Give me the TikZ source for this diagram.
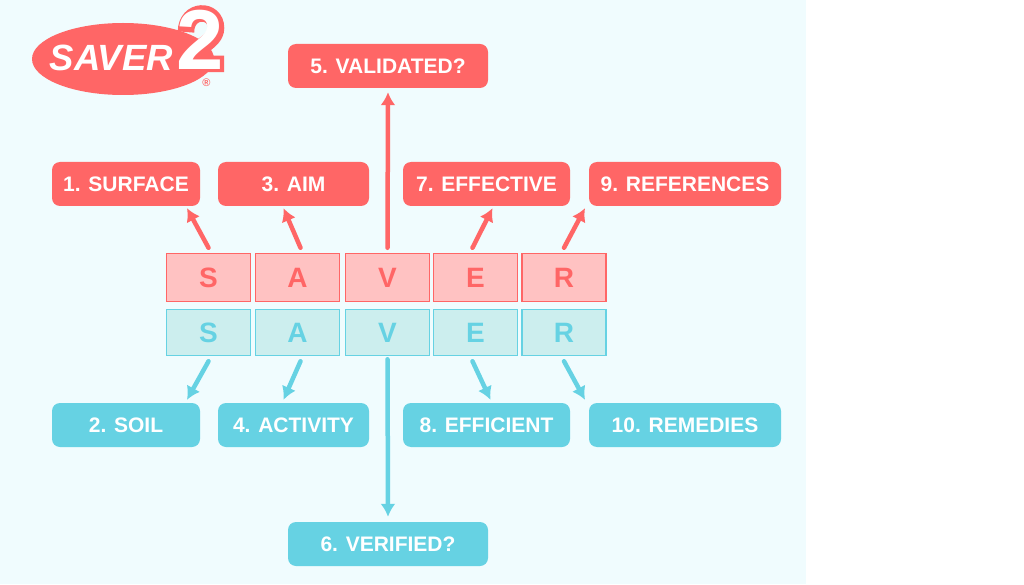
\documentclass[tikz,border=0pt]{standalone}
\usepackage{fontspec}
\setmainfont{Liberation Sans}
\definecolor{saverred}{HTML}{FF6666}
\definecolor{saverpink}{HTML}{FFC2C2}
\definecolor{saverblue}{HTML}{66D2E3}
\definecolor{saverpale}{HTML}{CCEEEE}
\definecolor{saverback}{HTML}{F0FCFE}
\tikzset{
  topic/.style={rounded corners=8pt,minimum height=44pt,inner sep=0pt,text=white,font=\fontsize{21}{24}\selectfont\bfseries},
  redtopic/.style={topic,fill=saverred},
  bluetopic/.style={topic,fill=saverblue},
  letter/.style={minimum width=84pt,inner sep=0pt,line width=1.5pt,font=\fontsize{28}{32}\selectfont\bfseries},
  redletter/.style={letter,minimum height=48pt,draw=saverred,fill=saverpink,text=saverred},
  blueletter/.style={letter,minimum height=46pt,draw=saverblue,fill=saverpale,text=saverblue},
  redarrow/.style={draw=saverred,line width=4.5pt,line cap=round,-{Latex[length=13pt,width=15pt]}},
  bluearrow/.style={draw=saverblue,line width=4.5pt,line cap=round,-{Latex[length=13pt,width=15pt]}}
}
\usetikzlibrary{arrows.meta}
\begin{document}
\begin{tikzpicture}[x=1pt,y=-1pt]
        \useasboundingbox (0,0) rectangle (1024,585);
        \fill[saverback] (0,0) rectangle (806,584);

        % Logo
        \fill[saverred] (123,59) ellipse [x radius=91,y radius=36];
        \node[text=white,inner sep=0pt,font=\fontsize{36.5}{40}\selectfont\bfseries\itshape] (logoname) at (111.5,58) {SAVER};
        \draw[saverred,line width=16.5pt] (186,32) .. controls (186,8) and (216,8) .. (216,28) .. controls (216,44) and (190,48) .. (186,64) -- (224,64);
        \node[text=white,inner sep=0pt,font=\fontsize{85}{86}\selectfont\bfseries] (logotwo) at (200.5,40) {2};
        \node[text=saverred,inner sep=0pt,font=\fontsize{11}{12}\selectfont\bfseries] (logomark) at (206.5,83) {®};

        % Red row of letters
        \node[redletter] (rs) at (208.5,277.5) {S};
        \node[redletter] (ra) at (297.5,277.5) {A};
        \node[redletter] (rv) at (387.5,277.5) {V};
        \node[redletter] (re) at (475.5,277.5) {E};
        \node[redletter] (rr) at (564,277.5) {R};

        % Blue row of letters
        \node[blueletter] (bs) at (208.5,332.5) {S};
        \node[blueletter] (ba) at (297.5,332.5) {A};
        \node[blueletter] (bv) at (387.5,332.5) {V};
        \node[blueletter] (be) at (475.5,332.5) {E};
        \node[blueletter] (br) at (564,332.5) {R};

        % Red topics
        \node[redtopic,minimum width=148pt] (surface) at (126,184) {1. SURFACE};
        \node[redtopic,minimum width=151pt] (aim) at (293.5,184) {3. AIM};
        \node[redtopic,minimum width=200pt] (validated) at (388,66) {5. VALIDATED?};
        \node[redtopic,minimum width=167pt] (effective) at (486.5,184) {7. EFFECTIVE};
        \node[redtopic,minimum width=192pt] (references) at (685,184) {9. REFERENCES};

        % Blue topics
        \node[bluetopic,minimum width=148pt] (soil) at (126,425) {2. SOIL};
        \node[bluetopic,minimum width=151pt] (activity) at (293.5,425) {4. ACTIVITY};
        \node[bluetopic,minimum width=200pt] (verified) at (388,544) {6. VERIFIED?};
        \node[bluetopic,minimum width=167pt] (efficient) at (486.5,425) {8. EFFICIENT};
        \node[bluetopic,minimum width=192pt] (remedies) at (685,425) {10. REMEDIES};

        % Connect the letters to the topics
        \draw[redarrow] ([yshift=5pt]rs.north) -- ([xshift=61pt,yshift=-2pt]surface.south);
        \draw[redarrow] ([xshift=3pt,yshift=5pt]ra.north) -- ([xshift=-10pt,yshift=-2pt]aim.south);
        \draw[redarrow] ([yshift=5pt]rv.north) -- ([yshift=-4pt]validated.south);
        \draw[redarrow] ([xshift=-3pt,yshift=5pt]re.north) -- ([xshift=6pt,yshift=-2pt]effective.south);
        \draw[redarrow] ([yshift=5pt]rr.north) -- ([xshift=-100pt,yshift=-2pt]references.south);
        \draw[bluearrow] ([yshift=-5pt]bs.south) -- ([xshift=61pt,yshift=3pt]soil.north);
        \draw[bluearrow] ([xshift=3pt,yshift=-5pt]ba.south) -- ([xshift=-10pt,yshift=3pt]activity.north);
        \draw[bluearrow] ([yshift=-3pt]bv.south) -- ([yshift=5pt]verified.north);
        \draw[bluearrow] ([xshift=-3pt,yshift=-5pt]be.south) -- ([xshift=4pt,yshift=3pt]efficient.north);
        \draw[bluearrow] ([yshift=-5pt]br.south) -- ([xshift=-100pt,yshift=3pt]remedies.north);
\end{tikzpicture}
\end{document}
